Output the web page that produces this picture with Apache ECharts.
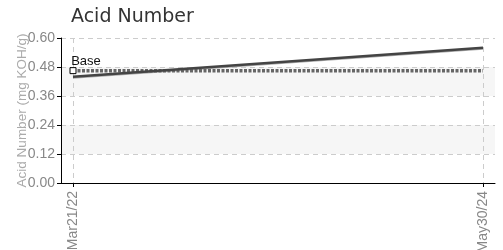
<!DOCTYPE html>
<html>
<head>
<meta charset="utf-8">
<script src="https://cdn.jsdelivr.net/npm/echarts@6/dist/echarts.min.js"></script>
<style>html,body{margin:0;padding:0;background:#fff}#c{width:503px;height:250px}</style>
</head>
<body>
<div id="c"></div>
<script>
var categories = ['Mar21/22', 'May30/24'];
var acidValues = [0.44, 0.56];
var acidShadow = [0.435, 0.555];
var baseValues = [0.465, 0.465];
var yTicks = [0, 0.12, 0.24, 0.36, 0.48, 0.60];

var xs = categories.map(function (c, i) { return i; });
function pts(vals) { return vals.map(function (v, i) { return [xs[i], v]; }); }

var font = 'Liberation Sans Narrow, Arial Narrow, sans-serif';
var chart = echarts.init(document.getElementById('c'), null, {renderer: 'canvas'});
chart.setOption({
  animation: false,
  title: {
    text: 'Acid Number', left: 66, top: 3,
    textStyle: {fontFamily: 'DejaVu Sans', fontSize: 19, fontWeight: 'normal', color: '#333'}
  },
  grid: {left: 61, right: 8, top: 38, bottom: 67, containLabel: false, outerBoundsMode: 'none'},
  xAxis: {
    type: 'value', min: -12 / 410, max: 1 + 12 / 410,
    axisLine: {show: true, onZero: false, lineStyle: {color: '#000', width: 1}},
    axisTick: {show: true, customValues: xs, length: 4, lineStyle: {color: '#000'}},
    axisLabel: {
      customValues: xs, rotate: 90, color: '#888', fontFamily: font, fontSize: 14, margin: 8,
      formatter: function (v) { return categories[Math.round(v)]; }
    },
    splitLine: {show: true, lineStyle: {color: '#ccc', type: [5, 4]}}
  },
  yAxis: {
    type: 'value', min: 0, max: 0.6, interval: 0.12,
    name: 'Acid Number (mg KOH/g)', nameLocation: 'middle', nameGap: 32, nameRotate: 90,
    nameMoveOverlap: false,
    nameTextStyle: {color: '#aaa', fontFamily: font, fontSize: 13.5},
    axisLine: {show: true, onZero: false, lineStyle: {color: '#000', width: 1}},
    axisTick: {show: true, length: 4, lineStyle: {color: '#000'}},
    axisLabel: {color: '#888', fontFamily: font, fontSize: 14, margin: 6,
      formatter: function (v) { return v.toFixed(2); }},
    splitLine: {show: true, lineStyle: {color: '#ccc', type: [5, 4]}},
    splitArea: {show: true, areaStyle: {color: ['#ffffff', '#f6f6f6']}}
  },
  series: [
    {
      type: 'line', data: pts(baseValues), z: 3,
      symbol: function (v, p) { return p.dataIndex === 0 ? 'rect' : 'none'; },
      symbolSize: 6, showSymbol: true,
      itemStyle: {color: '#fff', borderColor: '#000', borderWidth: 1},
      lineStyle: {color: '#666', width: 3.5, type: [3, 1.5]},
      label: {show: true, position: 'top', offset: [13, 6], color: '#111', fontFamily: font, fontSize: 13,
        formatter: function (p) { return p.dataIndex === 0 ? 'Base' : ''; }}
    },
    {
      type: 'line', data: pts(acidShadow), z: 2, symbol: 'none',
      lineStyle: {color: '#aaa', width: 2}
    },
    {
      type: 'line', data: pts(acidValues), z: 4, symbol: 'none',
      lineStyle: {color: '#444', width: 2.5}
    }
  ]
});
</script>
</body>
</html>
